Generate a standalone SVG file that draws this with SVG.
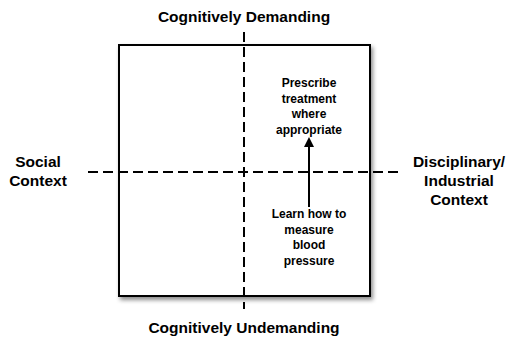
<svg xmlns="http://www.w3.org/2000/svg" width="510" height="340" viewBox="0 0 510 340">
  <defs>
    <filter id="shadow" x="-10%" y="-10%" width="125%" height="125%">
      <feDropShadow dx="2" dy="3" stdDeviation="2" flood-color="#000" flood-opacity="0.45"/>
    </filter>
    <marker id="arrowhead" viewBox="0 0 10 10" refX="1" refY="5" markerWidth="5" markerHeight="5" orient="auto" markerUnits="strokeWidth">
      <path d="M0,0 L10,5 L0,10 Z" fill="#000"/>
    </marker>
    <style>
      .axis { font-family: "Liberation Sans", Arial, sans-serif; font-weight: bold; font-size: 15.5px; fill: #000; text-anchor: middle; }
      .item { font-family: "Liberation Sans", Arial, sans-serif; font-weight: bold; font-size: 12px; fill: #000; text-anchor: middle; }
      .dash { stroke: #000; stroke-width: 2; stroke-dasharray: 10 5; fill: none; }
      .link { stroke: #000; stroke-width: 2; fill: none; }
    </style>
  </defs>

  <rect width="510" height="340" fill="#fff"/>

  <!-- quadrant frame -->
  <g id="frame">
    <rect x="119" y="45" width="251" height="251" fill="#fff" stroke="#000" stroke-width="2" filter="url(#shadow)"/>
  </g>

  <!-- axes -->
  <g id="axes">
    <line class="dash" x1="244" y1="32" x2="244" y2="309"/>
    <line class="dash" x1="88" y1="172" x2="401" y2="172"/>
  </g>

  <!-- axis labels -->
  <g id="top-label">
    <text class="axis" x="244" y="22">Cognitively Demanding</text>
  </g>
  <g id="bottom-label">
    <text class="axis" x="244" y="333">Cognitively Undemanding</text>
  </g>
  <g id="left-label">
    <text class="axis" x="38" y="167">Social</text>
    <text class="axis" x="38" y="186">Context</text>
  </g>
  <g id="right-label">
    <text class="axis" x="459" y="167">Disciplinary/</text>
    <text class="axis" x="459" y="186">Industrial</text>
    <text class="axis" x="459" y="205">Context</text>
  </g>

  <!-- tasks -->
  <g id="prescribe">
    <text class="item" x="309" y="87">Prescribe</text>
    <text class="item" x="309" y="102.5">treatment</text>
    <text class="item" x="309" y="118">where</text>
    <text class="item" x="309" y="133.5">appropriate</text>
  </g>
  <g id="measure">
    <text class="item" x="309" y="218">Learn how to</text>
    <text class="item" x="309" y="233.5">measure</text>
    <text class="item" x="309" y="249">blood</text>
    <text class="item" x="309" y="264.5">pressure</text>
  </g>

  <!-- progression arrow -->
  <g id="connectors">
    <line class="link" x1="309" y1="207" x2="309" y2="146" marker-end="url(#arrowhead)"/>
  </g>
</svg>
